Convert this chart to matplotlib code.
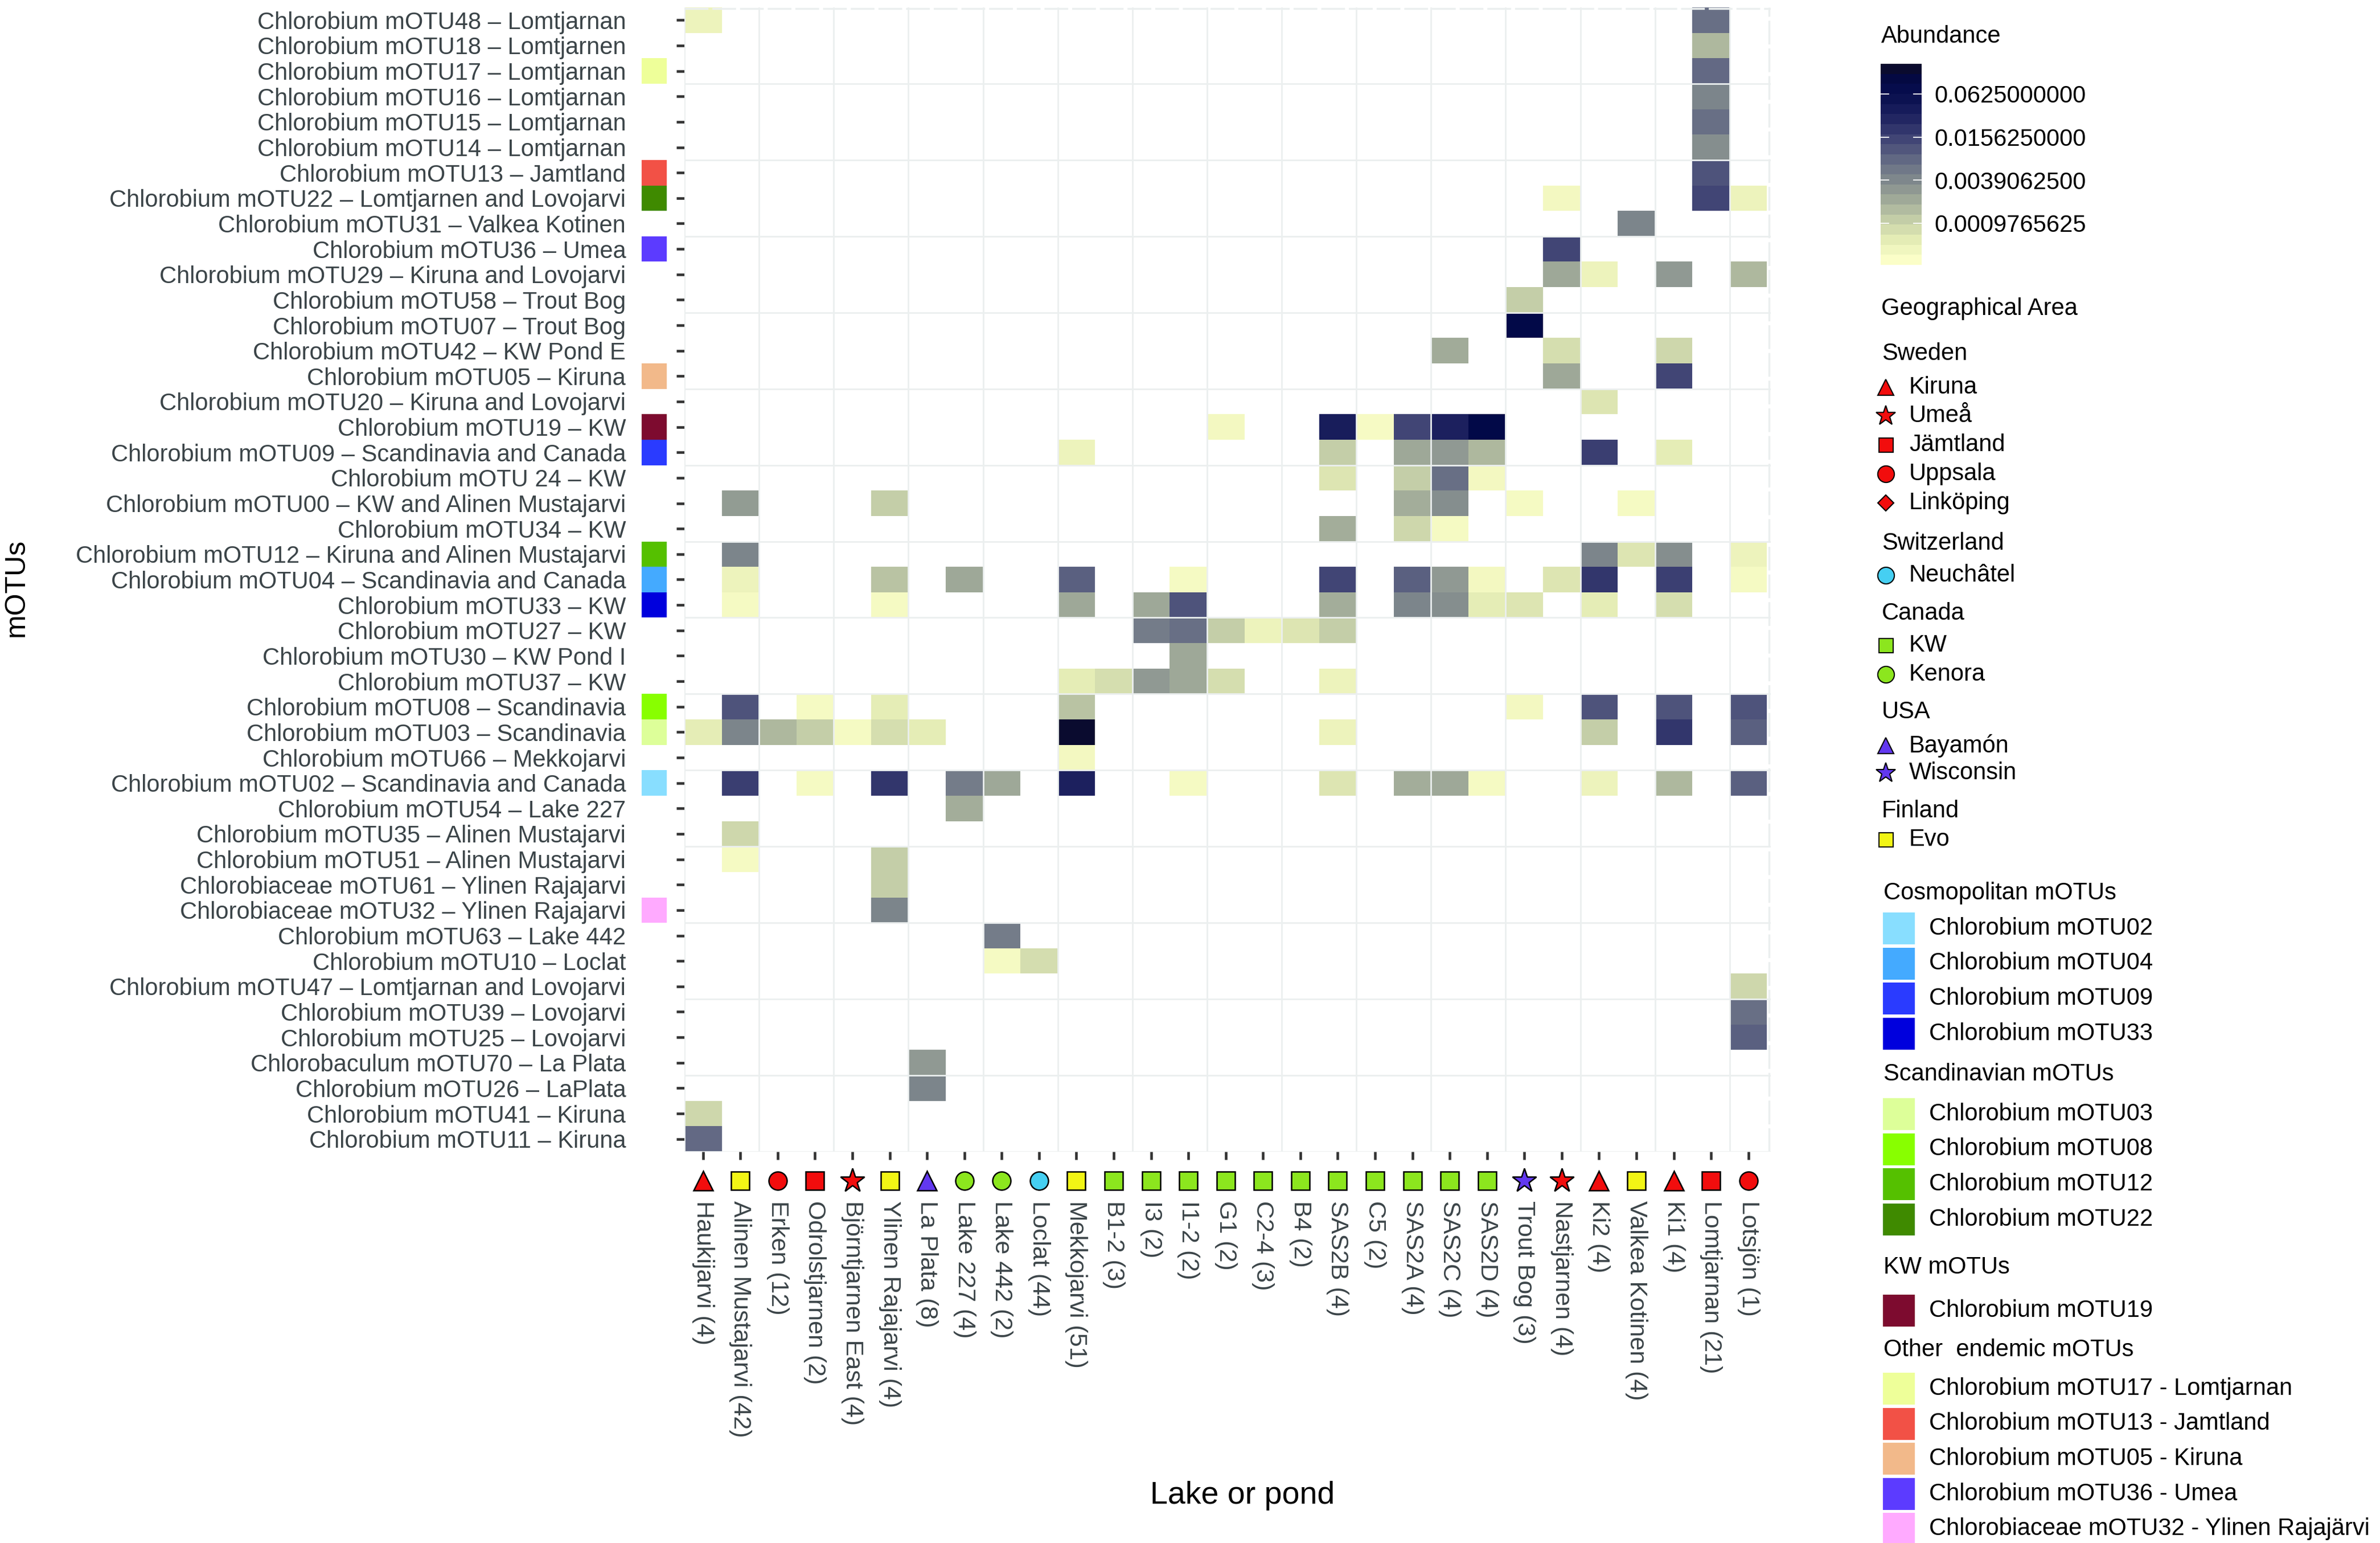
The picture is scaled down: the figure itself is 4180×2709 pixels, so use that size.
import numpy as np
import matplotlib.pyplot as plt
from matplotlib.colors import LinearSegmentedColormap, LogNorm
from matplotlib.patches import Rectangle
from matplotlib.lines import Line2D
from matplotlib.transforms import blended_transform_factory

plt.rcParams['font.family'] = ['Liberation Sans', 'DejaVu Sans']

# ---- data -------------------------------------------------------------
lakes = ['Haukijarvi', 'Alinen Mustajarvi', 'Erken', 'Odrolstjarnen', 'Björntjarnen East',
         'Ylinen Rajajarvi', 'La Plata', 'Lake 227', 'Lake 442', 'Loclat', 'Mekkojarvi',
         'B1-2', 'I3', 'I1-2', 'G1', 'C2-4', 'B4', 'SAS2B', 'C5', 'SAS2A', 'SAS2C', 'SAS2D',
         'Trout Bog', 'Nastjarnen', 'Ki2', 'Valkea Kotinen', 'Ki1', 'Lomtjarnan', 'Lotsjön']
lake_counts = [4, 42, 12, 2, 4, 4, 8, 4, 2, 44, 51, 3, 2, 2, 2, 3, 2, 4, 2, 4, 4, 4,
               3, 4, 4, 4, 4, 21, 1]
lake_area = ['Kiruna', 'Evo', 'Uppsala', 'Jämtland', 'Umeå', 'Evo', 'Bayamón', 'Kenora',
             'Kenora', 'Neuchâtel', 'Evo', 'KW', 'KW', 'KW', 'KW', 'KW', 'KW', 'KW', 'KW',
             'KW', 'KW', 'KW', 'Wisconsin', 'Umeå', 'Kiruna', 'Evo', 'Kiruna', 'Jämtland',
             'Uppsala']

motus = [
    'Chlorobium mOTU48 – Lomtjarnan',
    'Chlorobium mOTU18 – Lomtjarnen',
    'Chlorobium mOTU17 – Lomtjarnan',
    'Chlorobium mOTU16 – Lomtjarnan',
    'Chlorobium mOTU15 – Lomtjarnan',
    'Chlorobium mOTU14 – Lomtjarnan',
    'Chlorobium mOTU13 – Jamtland',
    'Chlorobium mOTU22 – Lomtjarnen and Lovojarvi',
    'Chlorobium mOTU31 – Valkea Kotinen',
    'Chlorobium mOTU36 – Umea',
    'Chlorobium mOTU29 – Kiruna and Lovojarvi',
    'Chlorobium mOTU58 – Trout Bog',
    'Chlorobium mOTU07 – Trout Bog',
    'Chlorobium mOTU42 – KW Pond E',
    'Chlorobium mOTU05 – Kiruna',
    'Chlorobium mOTU20 – Kiruna and Lovojarvi',
    'Chlorobium mOTU19 – KW',
    'Chlorobium mOTU09 – Scandinavia and Canada',
    'Chlorobium mOTU 24 – KW',
    'Chlorobium mOTU00 – KW and Alinen Mustajarvi',
    'Chlorobium mOTU34 – KW',
    'Chlorobium mOTU12 – Kiruna and Alinen Mustajarvi',
    'Chlorobium mOTU04 – Scandinavia and Canada',
    'Chlorobium mOTU33 – KW',
    'Chlorobium mOTU27 – KW',
    'Chlorobium mOTU30 – KW Pond I',
    'Chlorobium mOTU37 – KW',
    'Chlorobium mOTU08 – Scandinavia',
    'Chlorobium mOTU03 – Scandinavia',
    'Chlorobium mOTU66 – Mekkojarvi',
    'Chlorobium mOTU02 – Scandinavia and Canada',
    'Chlorobium mOTU54 – Lake 227',
    'Chlorobium mOTU35 – Alinen Mustajarvi',
    'Chlorobium mOTU51 – Alinen Mustajarvi',
    'Chlorobiaceae mOTU61 – Ylinen Rajajarvi',
    'Chlorobiaceae mOTU32 – Ylinen Rajajarvi',
    'Chlorobium mOTU63 – Lake 442',
    'Chlorobium mOTU10 – Loclat',
    'Chlorobium mOTU47 – Lomtjarnan and Lovojarvi',
    'Chlorobium mOTU39 – Lovojarvi',
    'Chlorobium mOTU25 – Lovojarvi',
    'Chlorobaculum mOTU70 – La Plata',
    'Chlorobium mOTU26 – LaPlata',
    'Chlorobium mOTU41 – Kiruna',
    'Chlorobium mOTU11 – Kiruna',
]

# relative abundance per mOTU (row) and lake (column)
abundance = [
    {'Haukijarvi': 0.0004, 'Lomtjarnan': 0.0065},
    {'Lomtjarnan': 0.0015},
    {'Lomtjarnan': 0.0074},
    {'Lomtjarnan': 0.0041},
    {'Lomtjarnan': 0.0065},
    {'Lomtjarnan': 0.0034},
    {'Lomtjarnan': 0.0116},
    {'Nastjarnen': 0.00033, 'Lomtjarnan': 0.015, 'Lotsjön': 0.0004},
    {'Valkea Kotinen': 0.0041},
    {'Nastjarnen': 0.015},
    {'Nastjarnen': 0.002, 'Ki2': 0.0004, 'Ki1': 0.0027, 'Lotsjön': 0.0015},
    {'Trout Bog': 0.001},
    {'Trout Bog': 0.1},
    {'SAS2C': 0.0019, 'Nastjarnen': 0.0007, 'Ki1': 0.0008},
    {'Nastjarnen': 0.002, 'Ki1': 0.015},
    {'Ki2': 0.0006},
    {'G1': 0.00033, 'SAS2B': 0.04, 'C5': 0.0003, 'SAS2A': 0.015, 'SAS2C': 0.035,
     'SAS2D': 0.1},
    {'Mekkojarvi': 0.0004, 'SAS2B': 0.001, 'SAS2A': 0.002, 'SAS2C': 0.0027,
     'SAS2D': 0.0015, 'Ki2': 0.0175, 'Ki1': 0.0005},
    {'SAS2B': 0.0006, 'SAS2A': 0.001, 'SAS2C': 0.0065, 'SAS2D': 0.00033},
    {'Alinen Mustajarvi': 0.0026, 'Ylinen Rajajarvi': 0.001, 'SAS2A': 0.0018,
     'SAS2C': 0.0034, 'Trout Bog': 0.00031, 'Valkea Kotinen': 0.00031},
    {'SAS2B': 0.0018, 'SAS2A': 0.0008, 'SAS2C': 0.00031},
    {'Alinen Mustajarvi': 0.0041, 'Ki2': 0.0041, 'Valkea Kotinen': 0.0006,
     'Ki1': 0.0034, 'Lotsjön': 0.0004},
    {'Alinen Mustajarvi': 0.0004, 'Ylinen Rajajarvi': 0.0012, 'Lake 227': 0.002,
     'Mekkojarvi': 0.009, 'I1-2': 0.00031, 'SAS2B': 0.015, 'SAS2A': 0.009,
     'SAS2C': 0.0027, 'SAS2D': 0.00033, 'Nastjarnen': 0.0006, 'Ki2': 0.021,
     'Ki1': 0.017, 'Lotsjön': 0.00031},
    {'Alinen Mustajarvi': 0.00031, 'Ylinen Rajajarvi': 0.00031, 'Mekkojarvi': 0.002,
     'I3': 0.002, 'I1-2': 0.0116, 'SAS2B': 0.0018, 'SAS2A': 0.0041, 'SAS2C': 0.0034,
     'SAS2D': 0.0005, 'Trout Bog': 0.0006, 'Ki2': 0.0005, 'Ki1': 0.0007},
    {'I3': 0.005, 'I1-2': 0.0065, 'G1': 0.001, 'C2-4': 0.0004, 'B4': 0.0006,
     'SAS2B': 0.001},
    {'I1-2': 0.002},
    {'Mekkojarvi': 0.0005, 'B1-2': 0.0007, 'I3': 0.0027, 'I1-2': 0.002, 'G1': 0.0007,
     'SAS2B': 0.0004},
    {'Alinen Mustajarvi': 0.0116, 'Odrolstjarnen': 0.00031, 'Ylinen Rajajarvi': 0.0005,
     'Mekkojarvi': 0.0012, 'Trout Bog': 0.00033, 'Ki2': 0.0116, 'Ki1': 0.0116,
     'Lotsjön': 0.0116},
    {'Haukijarvi': 0.0005, 'Alinen Mustajarvi': 0.0041, 'Erken': 0.0015,
     'Odrolstjarnen': 0.001, 'Björntjarnen East': 0.00031, 'Ylinen Rajajarvi': 0.0007,
     'La Plata': 0.0005, 'Mekkojarvi': 0.16, 'SAS2B': 0.0004, 'Ki2': 0.001,
     'Ki1': 0.021, 'Lotsjön': 0.009},
    {'Mekkojarvi': 0.00033},
    {'Alinen Mustajarvi': 0.0175, 'Odrolstjarnen': 0.00031, 'Ylinen Rajajarvi': 0.021,
     'Lake 227': 0.005, 'Lake 442': 0.002, 'Mekkojarvi': 0.035, 'I1-2': 0.00031,
     'SAS2B': 0.0006, 'SAS2A': 0.0018, 'SAS2C': 0.002, 'SAS2D': 0.00031,
     'Ki2': 0.0004, 'Ki1': 0.0015, 'Lotsjön': 0.009},
    {'Lake 227': 0.0018},
    {'Alinen Mustajarvi': 0.0008},
    {'Alinen Mustajarvi': 0.00031, 'Ylinen Rajajarvi': 0.001},
    {'Ylinen Rajajarvi': 0.001},
    {'Ylinen Rajajarvi': 0.0041},
    {'Lake 442': 0.005},
    {'Lake 442': 0.00031, 'Loclat': 0.00072},
    {'Lotsjön': 0.0008},
    {'Lotsjön': 0.0065},
    {'Lotsjön': 0.009},
    {'La Plata': 0.0027},
    {'La Plata': 0.0041},
    {'Haukijarvi': 0.0008},
    {'Haukijarvi': 0.0074},
]

# mOTU colour key shown left of the heatmap and in the legend
key_groups = [
    ('Cosmopolitan mOTUs', ['Chlorobium mOTU02', 'Chlorobium mOTU04',
                            'Chlorobium mOTU09', 'Chlorobium mOTU33']),
    ('Scandinavian mOTUs', ['Chlorobium mOTU03', 'Chlorobium mOTU08',
                            'Chlorobium mOTU12', 'Chlorobium mOTU22']),
    ('KW mOTUs', ['Chlorobium mOTU19']),
    ('Other  endemic mOTUs', ['Chlorobium mOTU17 - Lomtjarnan', 'Chlorobium mOTU13 - Jamtland',
                              'Chlorobium mOTU05 - Kiruna', 'Chlorobium mOTU36 - Umea',
                              'Chlorobiaceae mOTU32 - Ylinen Rajajärvi']),
]
key_colours = {'mOTU02': '#88DEFF', 'mOTU04': '#44AAFF', 'mOTU09': '#2A3BFF',
               'mOTU33': '#0000DD', 'mOTU03': '#DDFF99', 'mOTU08': '#88FF00',
               'mOTU12': '#55C000', 'mOTU22': '#3F8A00', 'mOTU19': '#7D0B2F',
               'mOTU17': '#EEFF99', 'mOTU13': '#F25146', 'mOTU05': '#F2B98A',
               'mOTU36': '#5C3BFF', 'mOTU32': '#FFAAFF'}

geo_groups = [('Sweden', ['Kiruna', 'Umeå', 'Jämtland', 'Uppsala', 'Linköping']),
              ('Switzerland', ['Neuchâtel']),
              ('Canada', ['KW', 'Kenora']),
              ('USA', ['Bayamón', 'Wisconsin']),
              ('Finland', ['Evo'])]
area_style = {'Kiruna': ('^', '#F20D0D'), 'Umeå': ('*', '#F20D0D'),
              'Jämtland': ('s', '#F20D0D'), 'Uppsala': ('o', '#F20D0D'),
              'Linköping': ('D', '#F20D0D'), 'Neuchâtel': ('o', '#45CFF2'),
              'KW': ('s', '#8CE61E'), 'Kenora': ('o', '#8CE61E'),
              'Bayamón': ('^', '#6238F0'), 'Wisconsin': ('*', '#6238F0'),
              'Evo': ('s', '#F2F515')}

bar_ticks = [0.0625, 0.015625, 0.00390625, 0.0009765625]
bar_ticklabels = ['0.0625000000', '0.0156250000', '0.0039062500', '0.0009765625']

# ---- figure -----------------------------------------------------------
W, H = 4180, 2709
fig = plt.figure(figsize=(W / 100, H / 100), dpi=100)


def fx(px):
    return px / W


def fy(py):
    return 1 - py / H


cmap = LinearSegmentedColormap.from_list('abund', [
    (0.00, '#FBFEC8'), (0.10, '#E6EEB6'), (0.207, '#C4CEA8'), (0.30, '#A4AE9A'),
    (0.421, '#7E878C'), (0.52, '#636A84'), (0.637, '#3F4374'), (0.75, '#1E2260'),
    (0.85, '#0A1150'), (0.93, '#020848'), (1.00, '#0A0B2E')])
norm = LogNorm(vmin=2.56e-4, vmax=0.165)

ax = fig.add_axes([fx(1202), fy(2022), fx(3110) - fx(1202), fy(13) - fy(2022)])
n_rows, n_cols = len(motus), len(lakes)
grid = np.full((n_rows, n_cols), np.nan)
for i, row in enumerate(abundance):
    for lake, v in row.items():
        grid[i, lakes.index(lake)] = v

ax.pcolormesh(np.arange(n_cols + 1) - 0.5, np.arange(n_rows + 1) - 0.5,
              np.ma.masked_invalid(grid), cmap=cmap, norm=norm, zorder=1)
ax.set_xlim(-0.5, 28.6)
ax.set_ylim(n_rows - 0.5, -0.5)

gc = '#EBEFEF'
for y in np.arange(2.5, n_rows, 3):
    ax.axhline(y, color=gc, lw=2.0, zorder=3)
for x in np.arange(-0.5, n_cols, 2):
    ax.axvline(x, color=gc, lw=2.0, zorder=3)
ax.axhline(-0.45, color=gc, lw=2.5, ls=(0, (12, 2)), zorder=3)
ax.axvline(28.55, color=gc, lw=2.5, ls=(0, (12, 2)), zorder=3)
for s in ax.spines.values():
    s.set_visible(False)

ax.set_yticks(range(n_rows))
ax.set_yticklabels(motus)
ax.set_xticks(range(n_cols))
ax.set_xticklabels([f'{n} ({c})' for n, c in zip(lakes, lake_counts)],
                   rotation=270, ha='center', va='top')
ax.tick_params(axis='both', length=10, width=3.3, color='#333333',
               labelcolor='#3B4448', labelsize=31)
ax.tick_params(axis='y', pad=64, labelsize=30)
ax.tick_params(axis='x', pad=52)

# colour key strip left of the heatmap
for i, lab in enumerate(motus):
    mid = lab.split()[1]
    if mid in key_colours and not lab.startswith('Chlorobiaceae mOTU61'):
        ax.add_patch(Rectangle((-1.644, i - 0.5), 0.671, 1, facecolor=key_colours[mid],
                               edgecolor='none', clip_on=False, zorder=2))

# geographic markers under the columns
ms_axis = {'^': 24, 's': 23, 'o': 23, '*': 32, 'D': 17}
trans = blended_transform_factory(ax.transData, ax.transAxes)
for j, area in enumerate(lake_area):
    m, c = area_style[area]
    ax.plot([j], [-0.0254], marker=m, color=c, markersize=ms_axis[m],
            markeredgecolor='black', markeredgewidth=1.8, transform=trans,
            clip_on=False, linestyle='none', zorder=4)

fig.text(fx(29), fy(1032), 'mOTUs', rotation=90, fontsize=36, ha='center', va='center')
fig.text(fx(2182), fy(2626), 'Lake or pond', fontsize=40, ha='center', va='center')

# ---- abundance colour bar --------------------------------------------
fig.text(fx(3304), fy(64), 'Abundance', fontsize=30, ha='left', va='center')
cax = fig.add_axes([fx(3303), fy(465), fx(3375) - fx(3303), fy(112) - fy(465)])
sm = plt.cm.ScalarMappable(norm=norm, cmap=cmap.resampled(20))
cb = fig.colorbar(sm, cax=cax, ticks=bar_ticks)
cb.minorticks_off()
cb.outline.set_visible(False)
cb.set_ticklabels(bar_ticklabels)
cax.tick_params(which='major', direction='in', color='white', length=11, width=1.3,
                left=True, right=True, labelsize=30, pad=16)

# ---- geographical legend ---------------------------------------------
fig.text(fx(3304), fy(542), 'Geographical Area', fontsize=30, ha='left', va='center')
title_y = {'Sweden': 621, 'Switzerland': 954, 'Canada': 1077, 'USA': 1250, 'Finland': 1424}
item_y = {'Kiruna': 680, 'Umeå': 730, 'Jämtland': 781, 'Uppsala': 832, 'Linköping': 883,
          'Neuchâtel': 1010, 'KW': 1133, 'Kenora': 1184, 'Bayamón': 1309,
          'Wisconsin': 1357, 'Evo': 1474}
ms_leg = {'^': 19.5, 's': 18, 'o': 21, '*': 26, 'D': 14.5}
for country, areas in geo_groups:
    fig.text(fx(3305), fy(title_y[country]), country, fontsize=30, ha='left', va='center')
    for a in areas:
        m, c = area_style[a]
        fig.add_artist(Line2D([fx(3312)], [fy(item_y[a])], marker=m, color=c,
                              markersize=ms_leg[m], markeredgecolor='black',
                              markeredgewidth=1.5, linestyle='none',
                              transform=fig.transFigure))
        fig.text(fx(3353), fy(item_y[a]), a, fontsize=30, ha='left', va='center')

# ---- mOTU colour legend ----------------------------------------------
group_title_y = [1568, 1886, 2225, 2370]
group_first_y = [1630, 1956, 2301, 2438]
for (title, items), ty, y0 in zip(key_groups, group_title_y, group_first_y):
    fig.text(fx(3308), fy(ty), title, fontsize=30, ha='left', va='center')
    for k, lab in enumerate(items):
        yc = y0 + 61.5 * k
        fig.add_artist(Rectangle((fx(3307), fy(yc + 28)), 56 / W, 56 / H,
                                 facecolor=key_colours[lab.split()[1]], edgecolor='none',
                                 transform=fig.transFigure))
        fig.text(fx(3388), fy(yc), lab, fontsize=30, ha='left', va='center')

fig.savefig('out.png', dpi=100)
